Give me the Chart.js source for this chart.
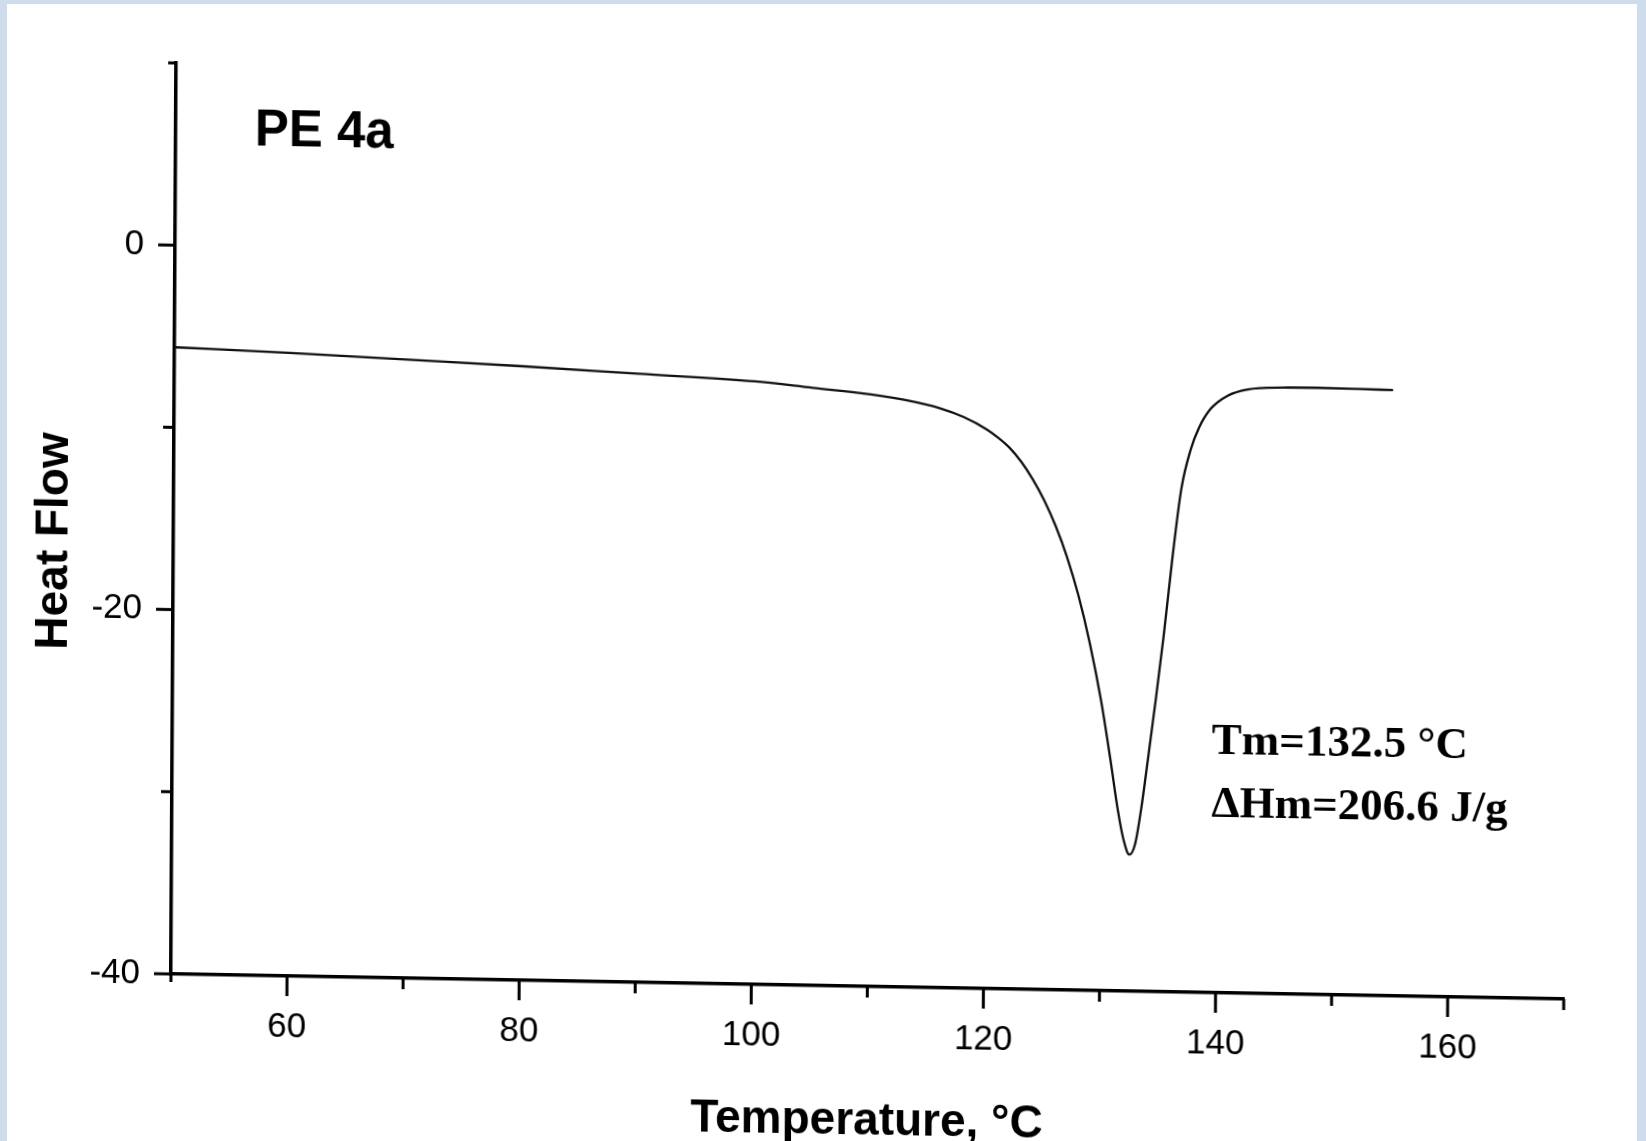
<!DOCTYPE html>
<html><head><meta charset="utf-8">
<script src="https://cdn.jsdelivr.net/npm/chart.js@4/dist/chart.umd.min.js"></script>
<style>
html,body{margin:0;padding:0;background:#cfdcec;width:1646px;height:1141px;overflow:hidden}
#page{position:absolute;left:7px;top:4px;width:1630px;height:1137px;background:#fff}
#wrap{position:absolute;left:0;top:0;width:1646px;height:1141px;transform-origin:171px 974px;transform:matrix(1,0.018,-0.0057,1,0,0)}
canvas{display:block}
</style></head><body>
<div id="page"></div>
<div id="wrap"><canvas id="c" width="1646" height="1141"></canvas></div>
<script>
// Temperature (°C) and heat flow readings of the DSC trace
const temperature = [50, 60, 70, 80, 90, 100, 105, 110, 113, 116, 118, 120, 121, 122, 123, 124, 125, 126, 127, 128, 129, 130, 130.8, 131.5, 132.0, 132.5, 133.0, 133.5, 134.05, 134.7, 135.35, 136.05, 136.8, 137.6, 138.3, 139.3, 140.8, 142.5, 145.5, 148.5, 152, 155];
const heatFlow = [-5.6, -5.8, -6.05, -6.3, -6.6, -6.9, -7.2, -7.5, -7.78, -8.2, -8.65, -9.3, -9.75, -10.3, -11.05, -12.0, -13.15, -14.55, -16.25, -18.35, -20.95, -24.1, -27.2, -30.1, -31.7, -32.5, -31.9, -30.0, -27.3, -24.0, -20.5, -16.3, -12.4, -10.2, -9.0, -7.95, -7.2, -6.85, -6.72, -6.7, -6.72, -6.75];
const xTickLabels = ['60', '80', '100', '120', '140', '160'];
const yTickLabels = ['0', '-20', '-40'];
const sampleName = 'PE 4a';
const meltInfo = ['Tm=132.5 °C', 'ΔHm=206.6 J/g'];
const xTitle = 'Temperature, °C';
const yTitle = 'Heat Flow';

const points = temperature.map((t, i) => ({x: t, y: heatFlow[i]}));

const decorations = {
  id: 'decorations',
  afterDraw(chart) {
    const {ctx, scales: {x, y}, chartArea: a} = chart;
    ctx.save();
    ctx.strokeStyle = '#000';
    ctx.lineWidth = 3;
    ctx.lineCap = 'butt';
    x.ticks.forEach(t => {
      const px = x.getPixelForValue(t.value);
      let len = xTickLabels.includes(String(t.value)) ? 20 : 11;
      if (t.value === x.min) len = 8;
      ctx.beginPath(); ctx.moveTo(px, a.bottom); ctx.lineTo(px, a.bottom + len); ctx.stroke();
    });
    y.ticks.forEach(t => {
      const py = y.getPixelForValue(t.value);
      let len = yTickLabels.includes(String(t.value)) ? 17 : 11;
      if (t.value === y.max) len = 8;
      ctx.beginPath(); ctx.moveTo(a.left, py); ctx.lineTo(a.left - len, py); ctx.stroke();
    });
    // y axis title
    ctx.fillStyle = '#000';
    ctx.font = 'bold 46px "Liberation Sans", Arial, sans-serif';
    ctx.textAlign = 'center';
    ctx.textBaseline = 'middle';
    ctx.translate(52, y.getPixelForValue(-16.35));
    ctx.rotate(-Math.PI / 2);
    ctx.fillText(yTitle, 0, 0);
    ctx.restore();
  },
  afterDatasetsDraw(chart) {
    const {ctx, scales: {x, y}} = chart;
    ctx.save();
    ctx.fillStyle = '#000';
    ctx.textBaseline = 'alphabetic';
    ctx.textAlign = 'left';
    ctx.font = 'bold 51px "Liberation Sans", Arial, sans-serif';
    ctx.fillText(sampleName, x.getPixelForValue(56.8), y.getPixelForValue(5.55));
    ctx.font = 'bold 45px "Liberation Serif", "Times New Roman", serif';
    ctx.fillText(meltInfo[0], x.getPixelForValue(139.55), y.getPixelForValue(-26.9));
    ctx.fillText(meltInfo[1], x.getPixelForValue(139.55), y.getPixelForValue(-30.35));
    ctx.restore();
  }
};

new Chart(document.getElementById('c'), {
  type: 'line',
  data: {
    datasets: [{
      data: points,
      borderColor: '#111',
      borderWidth: 2.3,
      pointRadius: 0,
      fill: false,
      cubicInterpolationMode: 'monotone'
    }]
  },
  options: {
    responsive: false,
    animation: false,
    devicePixelRatio: 1,
    layout: {padding: {top: 63, right: 82, bottom: 0, left: 0}},
    plugins: {legend: {display: false}, tooltip: {enabled: false}},
    scales: {
      x: {
        type: 'linear',
        min: 50, max: 170,
        afterFit(s) { s.height = 167; },
        grid: {display: false, drawTicks: false},
        border: {display: true, color: '#000', width: 3.5},
        ticks: {
          stepSize: 10,
          autoSkip: false,
          maxRotation: 0,
          padding: 30,
          color: '#000',
          font: {family: '"Liberation Sans", Arial, sans-serif', size: 35},
          callback: v => xTickLabels.includes(String(v)) ? String(v) : ''
        },
        title: {
          display: true, text: xTitle, color: '#000',
          font: {family: '"Liberation Sans", Arial, sans-serif', size: 46, weight: 'bold'},
          padding: {top: 0, bottom: 4}
        }
      },
      y: {
        type: 'linear',
        min: -40, max: 10,
        afterFit(s) { s.width = 171; },
        grid: {display: false, drawTicks: false},
        border: {display: true, color: '#000', width: 3.5},
        ticks: {
          stepSize: 10,
          autoSkip: false,
          padding: 31,
          color: '#000',
          font: {family: '"Liberation Sans", Arial, sans-serif', size: 35},
          callback: v => yTickLabels.includes(String(v)) ? String(v) : ''
        }
      }
    }
  },
  plugins: [decorations]
});
</script>
</body></html>
